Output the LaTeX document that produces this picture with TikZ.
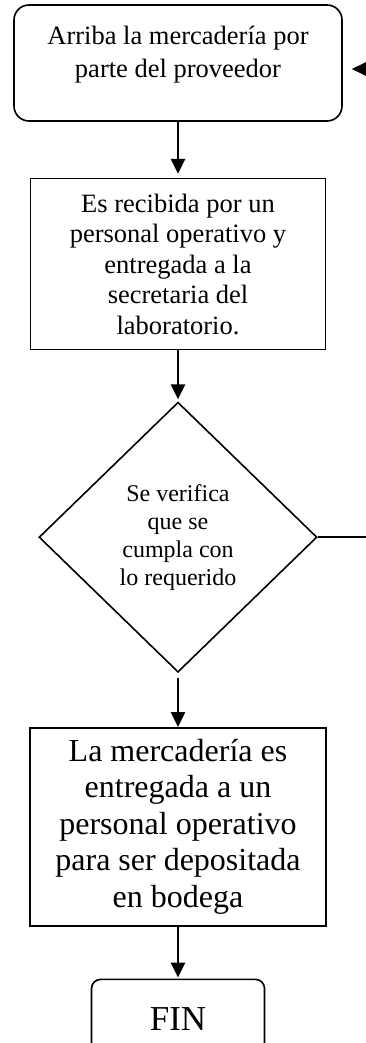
\documentclass[tikz,border=0pt]{standalone}
\usepackage{fontspec}
\setmainfont{Liberation Serif}
\usepackage{tikz}
\usetikzlibrary{arrows.meta,positioning,shapes.geometric}

\begin{document}
\begin{tikzpicture}[->,>={Triangle[length=15pt,width=14pt]},shorten >=4pt,
          line width=2.5pt,
          paso/.style={rectangle,draw,line width=1.6pt,align=center,inner sep=0pt},
          inicio/.style={paso,rounded corners=15pt},
          decision/.style={diamond,draw,line width=1.6pt,align=center,inner sep=0pt,
            minimum width=278pt,minimum height=270pt}]

        \useasboundingbox (0,0) rectangle (365pt,-1043pt);

        \node[inicio,minimum width=328pt,minimum height=116pt,
              font=\fontsize{26.5pt}{33pt}\selectfont] (arribo) at (178pt,-63pt)
              {Arriba la mercadería por\\parte del proveedor\\[-11pt]\mbox{}};
        \node[paso,minimum width=295pt,minimum height=171pt,
              font=\fontsize{26.5pt}{30.5pt}\selectfont] (recibe) [below=56pt of arribo]
              {Es recibida por un\\personal operativo y\\entregada a la\\secretaria del\\laboratorio.};
        \node[decision,font=\fontsize{24pt}{28pt}\selectfont] (verif) [below=51pt of recibe]
              {Se verifica\\que se\\cumpla con\\lo requerido};
        \node[paso,minimum width=296pt,minimum height=198pt,
              font=\fontsize{32pt}{36.5pt}\selectfont] (entrega) [below=54pt of verif]
              {La mercadería es\\entregada a un\\personal operativo\\para ser depositada\\en bodega};
        \node[paso,rounded corners=9pt,minimum width=173pt,minimum height=80pt,
              font=\fontsize{35pt}{40pt}\selectfont] (fin) [below=52pt of entrega] {FIN};

        \coordinate (vuelta) at ([xshift=60pt]verif.east);

        \path
        (arribo) edge (recibe)
        (recibe) edge[shorten >=2pt] (verif)
        (verif) edge[shorten <=5pt,shorten >=0pt] (entrega)
        (entrega) edge[shorten >=1pt] (fin);

        \draw[shorten >=9pt] (verif.east) -- (vuelta) |- ([yshift=-6pt]arribo.east);
      \end{tikzpicture}
\end{document}
